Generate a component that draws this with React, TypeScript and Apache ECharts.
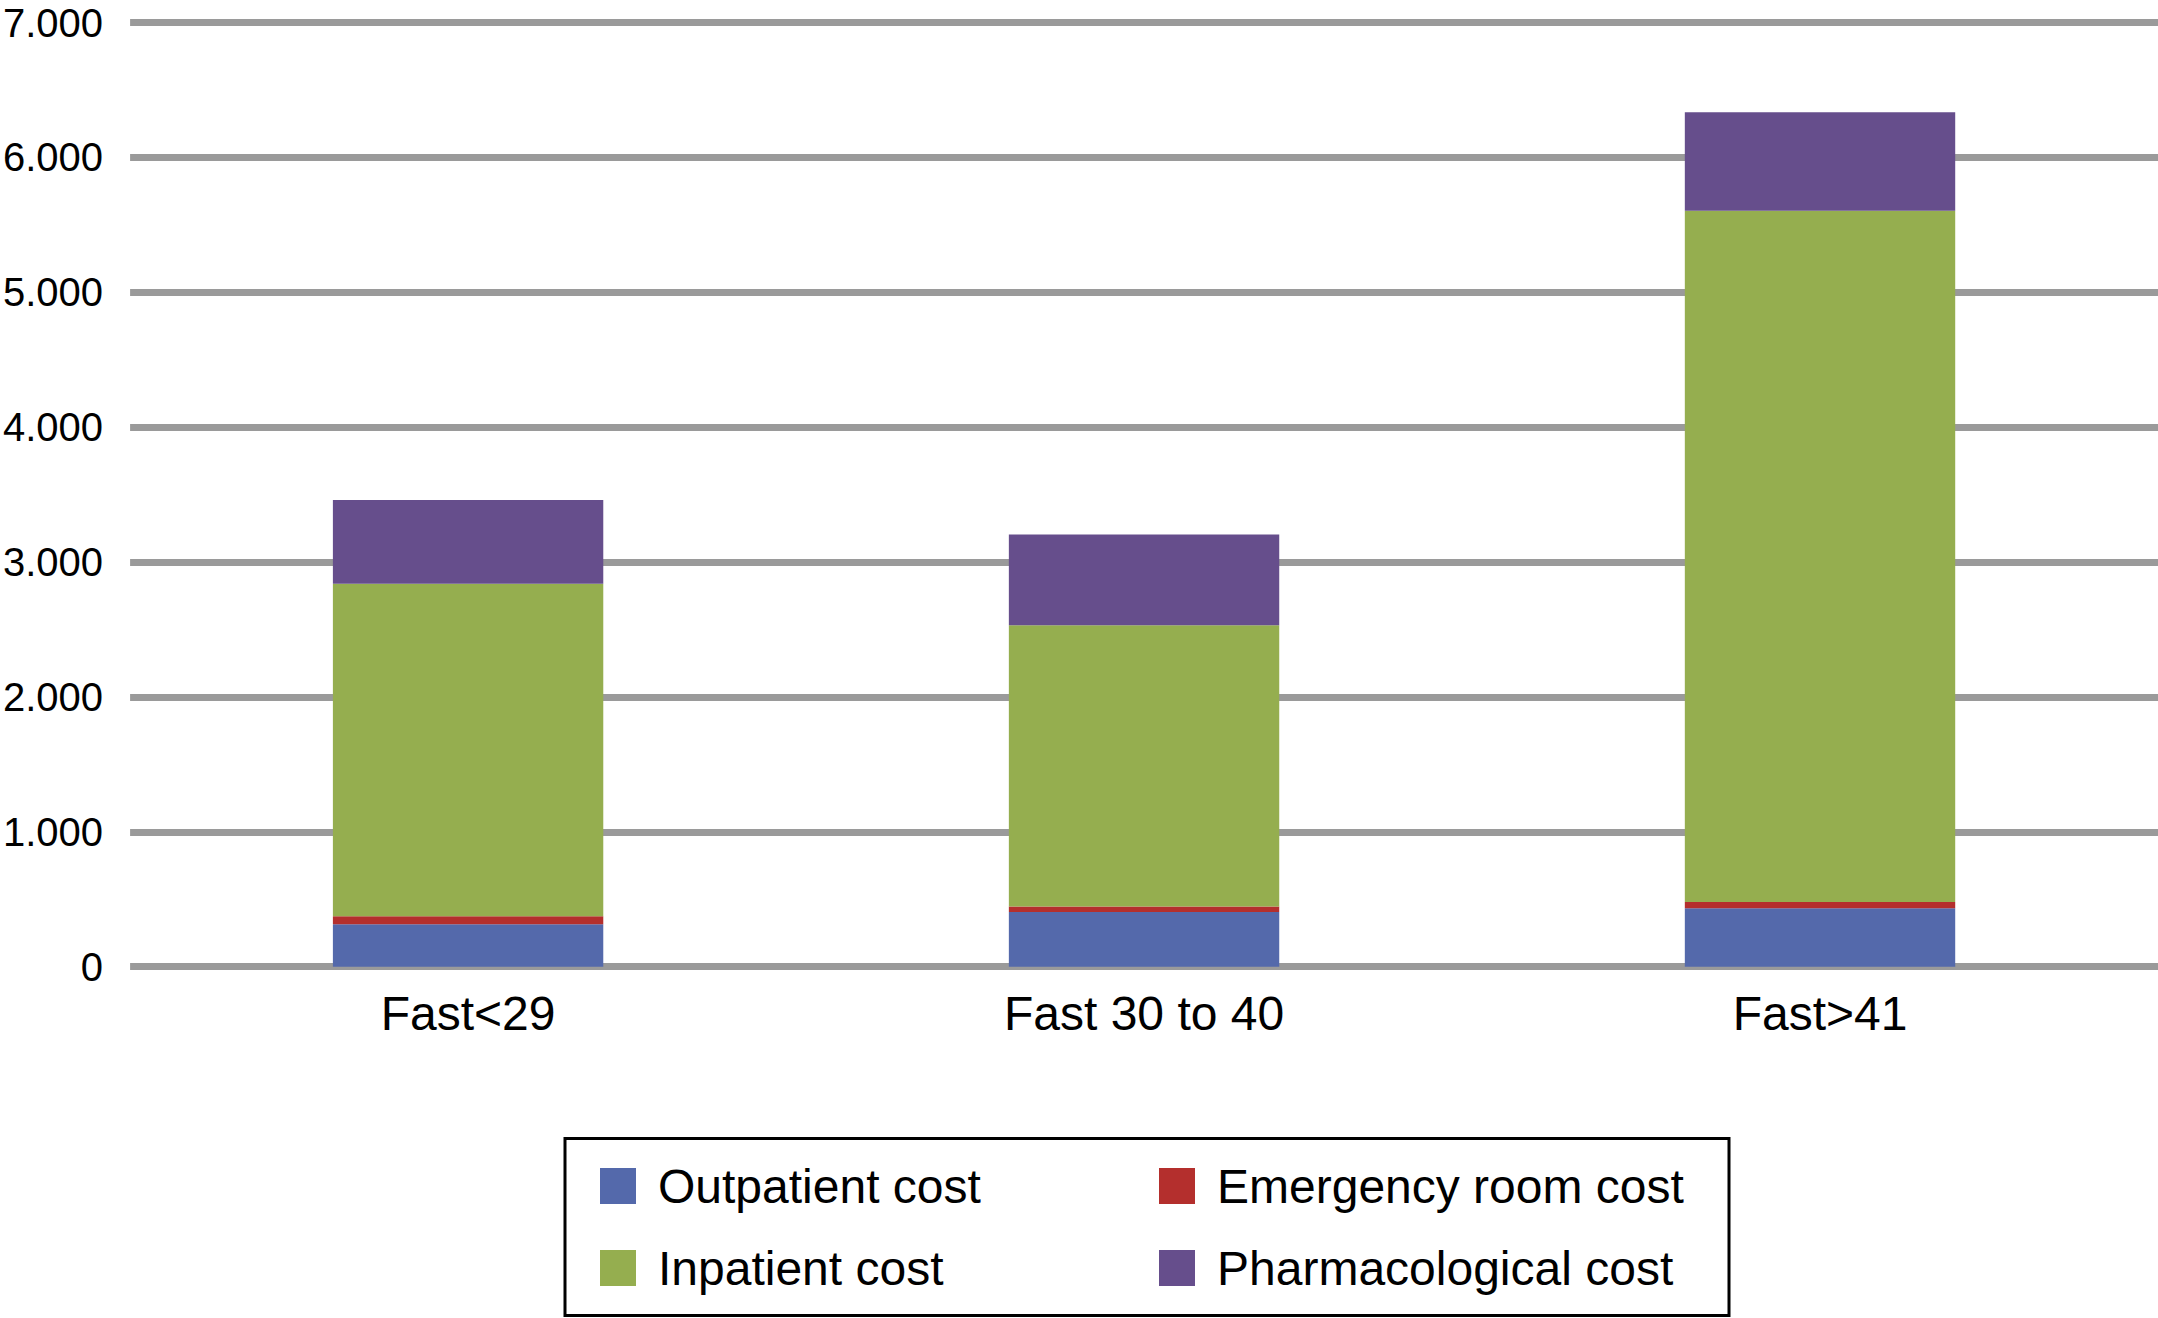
import React, { useEffect, useRef } from "react";
import * as echarts from "echarts";

const categories = ["Fast<29", "Fast 30 to 40", "Fast>41"];
const seriesNames = ["Outpatient cost", "Emergency room cost", "Inpatient cost", "Pharmacological cost"];
const outpatient = [314, 405, 433];
const emergency = [60, 42, 46];
const inpatient = [2465, 2084, 5126];
const pharmacological = [621, 673, 729];
const yMin = 0;
const yMax = 7000;
const yStep = 1000;

const colors = ["#5469AB", "#B42F2D", "#95AE4F", "#664E8C"];
const FONT = "'Liberation Sans', Arial, Helvetica, sans-serif";

function fmt(v: number): string {
  if (v === 0) return "0";
  const s = String(Math.round(v));
  return s.replace(/\B(?=(\d{3})+(?!\d))/g, ".");
}

export default function App() {
  const ref = useRef<HTMLDivElement>(null);
  useEffect(() => {
    if (!ref.current) return;
    const chart = echarts.init(ref.current, undefined, { renderer: "svg" });
    const values = [outpatient, emergency, inpatient, pharmacological];
    const legendText = {
      fontSize: 48,
      lineHeight: 48,
      color: "#000",
      fontFamily: FONT,
      padding: [0, 0, 0, 17],
    };
    chart.setOption({
      animation: false,
      backgroundColor: "#fff",
      grid: { left: 130, right: 0, top: 22.5, bottom: 351.3, containLabel: false },
      xAxis: {
        type: "category",
        data: categories,
        axisLine: { show: false },
        axisTick: { show: false },
        axisLabel: { fontSize: 48, color: "#000", fontFamily: FONT, margin: 23 },
      },
      yAxis: {
        type: "value",
        min: yMin,
        max: yMax,
        interval: yStep,
        axisLine: { show: false },
        axisTick: { show: false },
        splitLine: { show: true, lineStyle: { color: "#9a9a9a", width: 7 } },
        axisLabel: {
          fontSize: 40,
          lineHeight: 34,
          color: "#000",
          fontFamily: FONT,
          margin: 27,
          formatter: (v: number) => fmt(v),
        },
      },
      legend: [
        {
          data: [seriesNames[0], seriesNames[2]],
          orient: "vertical",
          left: 595,
          top: 1157,
          itemWidth: 36,
          itemHeight: 36,
          itemGap: 34,
          icon: "rect",
          selectedMode: false,
          textStyle: legendText,
        },
        {
          data: [seriesNames[1], seriesNames[3]],
          orient: "vertical",
          left: 1154,
          top: 1157,
          itemWidth: 36,
          itemHeight: 36,
          itemGap: 34,
          icon: "rect",
          selectedMode: false,
          textStyle: legendText,
        },
      ],
      graphic: [
        {
          type: "rect",
          shape: { x: 565, y: 1138.5, width: 1164, height: 177 },
          style: { fill: "none", stroke: "#000", lineWidth: 3 },
          silent: true,
        },
      ],
      series: seriesNames.map((name, i) => ({
        name,
        type: "bar",
        stack: "total",
        data: values[i],
        barCategoryGap: "60%",
        itemStyle: { color: colors[i] },
      })),
    });
    return () => chart.dispose();
  }, []);
  return (
    <div
      ref={ref}
      style={{ position: "absolute", left: 0, top: 0, width: 2158, height: 1318 }}
    />
  );
}
